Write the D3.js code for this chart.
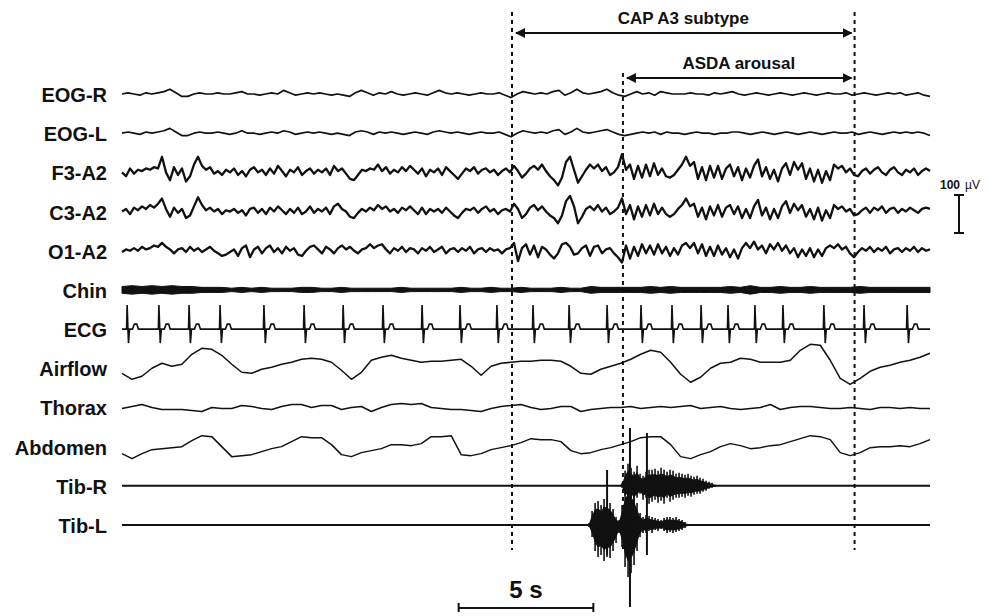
<!DOCTYPE html>
<html>
<head>
<meta charset="utf-8">
<script src="https://cdn.jsdelivr.net/npm/d3@7"></script>
<style>
  body { margin: 0; background: #fff; }
  text { font-family: "Liberation Sans", Arial, sans-serif; }
</style>
</head>
<body>
<div id="chart"></div>
<script>
// 30 s polysomnography epoch, every trace sampled evenly over the epoch
const EPOCH = 30;

const channels = ["EOG-R", "EOG-L", "F3-A2", "C3-A2", "O1-A2", "Chin", "ECG",
                  "Airflow", "Thorax", "Abdomen", "Tib-R", "Tib-L"];

// event markers (s)
const capStart = 14.48, asdaStart = 18.6, eventEnd = 27.2;
const timeBar = { start: 12.5, length: 5, label: "5 s" };
const calib = { value: 100, unit: "µV" };

// EOG (136 samples)
const eogR = [0,1,0,-1,1,0,1,2,4,1, -2,-2,0,1,0,0,1,0,0,1, 2,0,0,-1,0,1,0,3,1,-1,
  0,1,0,1,0,-1,0,-1,-2,1, 3,1,-1,1,0,2,0,-1,0,1, 0,-1,1,3,1,0,1,0,-1,0,
  1,0,0,1,-1,-3,0,2,1,0, 1,0,2,3,-1,1,4,1,0,1, 2,4,1,-1,-2,0,2,0,1,-1,
  2,1,0,0,0,1,0,0,-1,1, 0,1,2,0,-1,0,1,0,-1,0, 1,0,-1,0,1,0,-1,0,1,0,
  0,1,-1,0,1,0,-1,0,1,0, 1,-1,0,1,-1,-2];
const eogL = [0,1,0,-1,1,0,1,2,4,1, -2,-2,0,1,0,0,1,0,-1,0, 2,0,0,-1,0,1,0,2,1,-1,
  0,1,0,1,0,-1,0,-1,-2,1, 2,1,-1,1,0,1,0,-1,0,1, 0,-1,1,2,1,0,1,0,-1,0,
  1,0,0,1,-1,-3,0,2,1,0, 1,0,2,3,-1,1,4,1,0,1, 2,3,1,-1,-2,-1,0,1,0,1,
  -1,1,0,0,-1,0,1,0,0,-1, 0,0,1,1,0,-1,0,1,0,-1, 0,1,0,-1,0,1,0,-1,0,1,
  0,0,1,-1,0,1,0,-1,0,1, 0,1,0,1,0,-2];

// EEG (203 samples)
const f3a2 = [0,-3,3,-1,2,1,3,2,4,3, 12,0,-6,4,-2,3,-7,-3,6,12, 5,2,4,-1,1,-2,2,0,3,-2,
  1,-3,2,4,0,2,-2,3,-1,5, 1,-3,2,0,4,-2,1,3,-1,2, 0,3,-2,5,1,3,-1,-5,-6,-2,
  2,1,3,2,6,1,4,-1,2,0, 4,1,5,2,-1,3,-3,2,0,3, -2,4,1,-2,-5,-1,3,1,4,-1,
  2,3,0,2,-2,1,3,0,5,1, -4,-1,3,5,2,6,1,-3,-6,-10, -4,8,12,2,-8,-3,2,6,3,6,
  1,4,-2,0,4,14,2,6,-5,5, -4,6,-3,7,-2,3,-3,-4,-2,2, 6,12,5,8,-5,4,-6,5,-4,5,
  -5,3,6,-3,4,-6,3,-4,5,10, -3,4,-5,2,-7,3,7,-2,8,2, 7,-5,3,-7,2,-8,1,-6,6,3,
  5,0,3,-2,-3,1,3,-1,2,4, 0,-2,2,4,0,-2,2,0,3,-2, 1,3,1];
const c3a2 = [0,2,-2,3,1,4,2,5,3,6, 10,2,-4,3,-1,2,-5,-3,4,11, 5,1,3,0,2,-2,1,0,2,-1,
  1,-3,2,3,-1,2,-2,3,0,4, 1,-2,2,-1,3,-2,0,4,-1,2, 0,3,-2,4,6,2,0,-4,-5,-1,
  2,0,3,1,5,2,4,0,2,-1, 3,1,4,1,-2,3,-2,2,0,2, -1,3,0,-3,-5,-1,2,1,3,-1,
  2,4,0,2,-2,1,2,0,6,2, -5,-2,3,5,1,4,0,-3,-5,-9, -3,8,12,4,-9,-4,2,4,1,5,
  0,3,-2,0,3,10,-2,5,-6,4, -4,5,-3,6,-2,3,-2,-4,-2,2, 5,10,4,6,-4,3,-6,4,-3,5,
  -4,3,5,-2,4,-5,2,-5,4,9, -3,3,-6,2,-5,4,8,-1,6,1, 5,-4,2,-6,3,-7,1,-5,5,2,
  4,0,2,-3,-2,1,3,-1,3,1, 4,-1,2,3,-1,2,0,3,1,-1, 2,3,2];
const o1a2 = [-1,1,0,2,0,3,1,2,4,3, 6,3,1,-2,1,2,-1,3,0,2, -1,1,3,0,-2,-4,-3,-1,1,-4,
  2,4,-5,1,3,-2,2,4,-1,2, -2,3,0,2,-3,-4,0,3,4,1, -2,3,1,-2,2,4,1,3,0,-2,
  1,2,5,2,4,5,1,-2,2,0, 3,-1,2,1,-2,2,0,3,-1,1, 3,-2,1,2,-1,2,0,3,-2,1,
  2,-1,2,0,1,-2,1,2,6,-8, 2,5,-3,4,-5,3,1,-3,-6,-2, 5,6,3,-3,-2,2,4,-4,3,4,
  -2,1,2,-2,-5,-9,4,-6,3,-4, 5,-2,4,-3,5,-2,3,-4,2,-3, 4,6,2,6,-2,5,-4,3,-4,4,
  -3,2,-5,1,-6,2,6,2,7,1, 4,-2,5,1,6,0,4,-2,2,-5, 1,-4,2,-5,1,-4,2,4,2,5,
  1,3,-2,-5,-1,2,0,3,-1,2, 0,3,-2,1,2,-1,2,0,3,-1, 2,0,1];

// chin EMG envelope (82 samples)
const chin = [4,5,4,5,4,5,4,4,3,3, 3,2,3,2,3,2,2,2,3,3, 2,2,3,2,2,2,2,2,3,2,
  2,2,2,2,3,2,2,3,2,2, 3,2,2,2,3,2,2,4,3,3, 3,3,3,4,3,4,3,3,3,3,
  3,4,3,5,3,3,4,3,3,4, 3,3,3,3,4,3,3,3,3,3, 3,3];

// ECG: R-peak times (s) and beat shape [dt (s), amplitude]
const rPeaks = [0.19,1.37,2.49,3.64,5.27,6.76,8.21,9.69,11.14,12.55,13.92,15.26,
  16.6,18.01,19.27,20.42,21.5,22.5,23.5,24.54,26.06,27.55,29.15];
const beatShape = [[-0.08,0],[-0.02,0],[0,24],[0.05,-14],[0.09,0],[0.2,0],[0.27,5],[0.36,5],[0.42,0]];

// respiration (82 samples)
const airflow = [-5,-11,-8,0,5,2,4,14,20,19, 13,4,-4,-5,-1,1,4,6,9,10,
  9,6,-2,-11,-4,8,11,13,10,8, 6,7,7,8,9,2,-7,2,5,6, 7,7,8,8,7,2,-5,-6,-1,2,
  5,9,14,18,16,6,-6,-14,-9,0, 5,6,10,9,6,6,6,8,18,24, 23,8,-10,-16,-10,-3,1,3,6,8, 11,15];
const thorax = [-1,1,3,0,-2,-2,-2,-3,-4,0, -1,-1,2,1,-1,-2,1,3,3,0,
  2,2,-2,0,1,-4,0,3,4,3, 4,0,-1,-2,-2,-3,-4,-1,1,2, 3,0,-2,-1,1,1,-4,-2,-1,0,
  0,1,-1,0,1,0,1,2,-1,0, 1,-1,-2,-1,0,3,-2,0,1,1, 0,-1,-1,0,-1,-2,0,0,-1,0, -1,-1];
const abdomen = [-7,-12,-7,-3,-2,-1,0,6,11,10, 0,-10,-9,-8,-5,-2,0,5,10,9,
  9,2,-8,-10,-6,-4,-2,2,2,1, 3,10,10,11,-8,-9,-7,-3,-1,1, 4,8,7,7,5,-4,-7,-6,-3,-1,
  2,5,9,10,10,2,-10,-12,-8,-5, 0,3,1,-2,-1,1,2,5,8,11, 10,7,-6,-9,-6,-1,0,0,1,0, 3,7];

// tibialis bursts: envelope above / below baseline, 45 samples over the window
const tibWindow = [17.23, 22.13];
const tibRUp = [0,0,0,0,0,0,0,0,0,0,0,0, 3,15,22,18,14,20,12,10,14,16,16,17,15,18,16,14,16,15,12,13,
  12,11,12,10,9,10,8,7,5,4,3,1,0];
const tibRDown = [0,0,0,0,0,0,0,0,0,0,0,0, 2,10,15,12,16,12,8,14,12,18,16,14,17,15,18,12,16,14,12,12,
  11,12,10,11,9,8,8,6,5,3,2,1,0];
const tibLUp = [0,2,14,22,24,20,26,25,22,16,8,5,20,38,44,40,34,22,12,8,10,9,8,7,6,5,7,8,8,7,8,6,5,3,1,
  0,0,0,0,0,0,0,0,0,0];
const tibLDown = [0,2,12,26,32,30,36,32,33,26,18,8,22,42,52,48,40,26,12,8,8,6,8,5,6,4,6,8,7,8,7,6,5,3,1,
  0,0,0,0,0,0,0,0,0,0];
// single large deflections [time, above, below] relative to Tib-L
const tibSpikes = [[18.01, 55, 30], [18.86, 97, 82], [19.49, 92, 30]];

const W = 989, H = 616;
const svg = d3.select("#chart").append("svg").attr("width", W).attr("height", H);

const x = d3.scaleLinear().domain([0, EPOCH]).range([122, 930]);
const row = d3.scalePoint().domain(channels).range([94, 525]);

// y scale for one channel: gain = px per unit
function yOf(ch, gain) {
    const b = row(ch);
    return d3.scaleLinear().domain([-10, 10]).range([b + 10 * gain, b - 10 * gain]);
}
function series(values, t0 = 0, t1 = EPOCH) {
    const n = values.length;
    return values.map((v, i) => [t0 + i * (t1 - t0) / (n - 1), v]);
}
function drawLine(ch, values, gain, width) {
    const y = yOf(ch, gain);
    svg.append("path")
        .datum(series(values))
        .attr("d", d3.line().x(d => x(d[0])).y(d => y(d[1])))
        .attr("fill", "none")
        .attr("stroke", "#111")
        .attr("stroke-width", width)
        .attr("stroke-linejoin", "round");
}

// channel labels
svg.append("g").selectAll("text")
    .data(channels)
    .join("text")
    .attr("x", 107)
    .attr("y", d => row(d) + 8)
    .attr("text-anchor", "end")
    .style("font-size", "20px")
    .style("font-weight", "bold")
    .attr("fill", "#111")
    .text(d => d);

drawLine("EOG-R", eogR, 1.2, 1.7);
drawLine("EOG-L", eogL, 1.2, 1.7);
drawLine("F3-A2", f3a2, 1.3, 2.3);
drawLine("C3-A2", c3a2, 1.3, 2.3);
drawLine("O1-A2", o1a2, 1.3, 2.3);

// chin as envelope band
{
    const y = yOf("Chin", 0.85);
    svg.append("path")
        .datum(series(chin))
        .attr("d", d3.area().x(d => x(d[0])).y0(d => y(-d[1])).y1(d => y(d[1])))
        .attr("fill", "#111")
        .attr("stroke", "#111")
        .attr("stroke-width", 1);
}

// ECG built from R peaks and the beat shape
{
    const y = yOf("ECG", 1);
    const pts = [[0, 0]];
    rPeaks.forEach(r => beatShape.forEach(([dt, v]) => {
        if (r + dt >= 0 && r + dt <= EPOCH) pts.push([r + dt, v]);
    }));
    pts.push([EPOCH, 0]);
    svg.append("path")
        .datum(pts)
        .attr("d", d3.line().x(d => x(d[0])).y(d => y(d[1])))
        .attr("fill", "none")
        .attr("stroke", "#111")
        .attr("stroke-width", 1.6);
}

drawLine("Airflow", airflow, 1, 1.5);
drawLine("Thorax", thorax, 1, 1.5);
drawLine("Abdomen", abdomen, 1, 1.5);

// tibialis: baseline + bursts (drawn as dense vertical strokes over an envelope)
[["Tib-R", tibRUp, tibRDown], ["Tib-L", tibLUp, tibLDown]].forEach(([ch, up, down]) => {
    const y = yOf(ch, 1);
    svg.append("path")
        .datum([[0, 0], [EPOCH, 0]])
        .attr("d", d3.line().x(d => x(d[0])).y(d => y(d[1])))
        .attr("stroke", "#111")
        .attr("stroke-width", 2);
    const n = up.length;
    const pts = up.map((u, i) => [tibWindow[0] + i * (tibWindow[1] - tibWindow[0]) / (n - 1), u, down[i]]);
    svg.append("path")
        .datum(pts)
        .attr("d", d3.area().x(d => x(d[0])).y0(d => y(-d[2] * 0.7)).y1(d => y(d[1] * 0.7)))
        .attr("fill", "#111");
    svg.append("g").selectAll("line")
        .data(pts)
        .join("line")
        .attr("x1", d => x(d[0])).attr("x2", d => x(d[0]))
        .attr("y1", d => y(d[1])).attr("y2", d => y(-d[2]))
        .attr("stroke", "#111")
        .attr("stroke-width", 1.6);
});
{
    const y = yOf("Tib-L", 1);
    svg.append("g").selectAll("line")
        .data(tibSpikes)
        .join("line")
        .attr("x1", d => x(d[0])).attr("x2", d => x(d[0]))
        .attr("y1", d => y(d[1])).attr("y2", d => y(-d[2]))
        .attr("stroke", "#111")
        .attr("stroke-width", 2);
}

// dotted event boundaries
[[capStart, 12], [asdaStart, 73], [eventEnd, 12]].forEach(([t, top]) => {
    svg.append("line")
        .attr("x1", x(t)).attr("x2", x(t))
        .attr("y1", top).attr("y2", 550)
        .attr("stroke", "#111")
        .attr("stroke-width", 2)
        .attr("stroke-dasharray", "4,4");
});

// arrows
const defs = svg.append("defs");
defs.append("marker")
    .attr("id", "arrow")
    .attr("viewBox", "0 0 10 10")
    .attr("refX", 9).attr("refY", 5)
    .attr("markerWidth", 5).attr("markerHeight", 5)
    .attr("orient", "auto-start-reverse")
    .append("path")
    .attr("d", "M0,0L10,5L0,10Z")
    .attr("fill", "#111");

[[capStart, 33, "CAP A3 subtype", 24], [asdaStart, 78, "ASDA arousal", 69]].forEach(([t0, ya, label, yt]) => {
    svg.append("line")
        .attr("x1", x(t0) + 4).attr("x2", x(eventEnd) - 3)
        .attr("y1", ya).attr("y2", ya)
        .attr("stroke", "#111")
        .attr("stroke-width", 2)
        .attr("marker-start", "url(#arrow)")
        .attr("marker-end", "url(#arrow)");
    svg.append("text")
        .attr("x", (x(t0) + x(eventEnd)) / 2)
        .attr("y", yt)
        .attr("text-anchor", "middle")
        .style("font-size", "17px")
        .style("font-weight", "bold")
        .attr("fill", "#111")
        .text(label);
});

// 5 s time bar
{
    const x0 = x(timeBar.start), x1 = x(timeBar.start + timeBar.length);
    svg.append("path")
        .attr("d", `M${x0},603V612M${x0},608H${x1}M${x1},603V612`)
        .attr("fill", "none")
        .attr("stroke", "#111")
        .attr("stroke-width", 2);
    svg.append("text")
        .attr("x", (x0 + x1) / 2)
        .attr("y", 598)
        .attr("text-anchor", "middle")
        .style("font-size", "24px")
        .style("font-weight", "bold")
        .attr("fill", "#111")
        .text(timeBar.label);
}

// 100 µV calibration bar
{
    const cal = d3.scaleLinear().domain([0, calib.value]).range([233, 195]);
    const cx = 959;
    svg.append("path")
        .attr("d", `M${cx - 5},${cal(calib.value)}H${cx + 5}M${cx},${cal(calib.value)}V${cal(0)}M${cx - 5},${cal(0)}H${cx + 5}`)
        .attr("fill", "none")
        .attr("stroke", "#111")
        .attr("stroke-width", 2);
    const t = svg.append("text")
        .attr("x", 940)
        .attr("y", 189)
        .style("font-size", "12px")
        .attr("fill", "#111");
    t.append("tspan").style("font-weight", "bold").text(calib.value);
    t.append("tspan").attr("dx", 5).text(calib.unit);
}
</script>
</body>
</html>
